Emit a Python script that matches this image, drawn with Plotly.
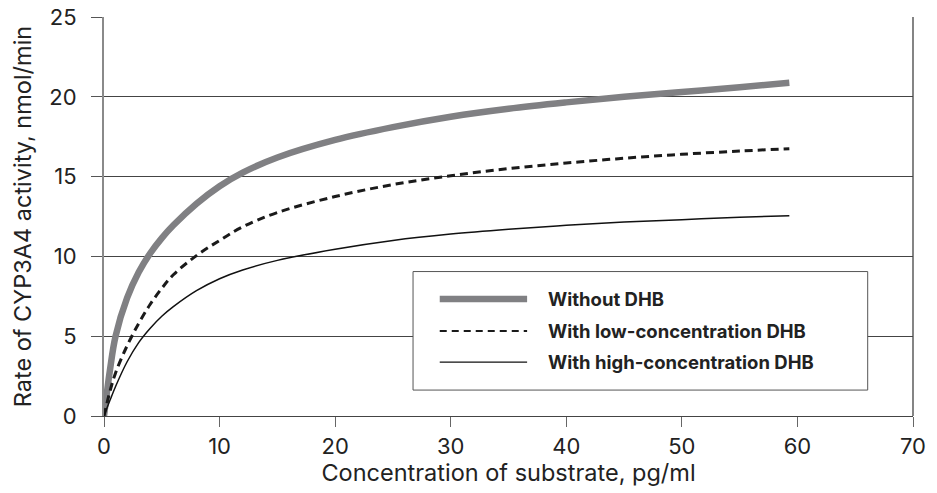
import plotly.graph_objects as go

# Substrate concentration (pg/ml)
conc = [0, 0.5, 1, 2, 3, 4, 5, 6, 8, 10, 12, 15, 20, 25, 30, 35, 40, 45, 50, 55, 59.3]

# Rate of CYP3A4 activity (nmol/min)
without_dhb = [0, 2.8, 5.0, 7.4, 9.0, 10.2, 11.15, 11.95, 13.3, 14.4, 15.25, 16.2, 17.3, 18.1, 18.75, 19.25, 19.65, 20.0, 20.3, 20.6, 20.88]
low_dhb = [0, 1.5, 2.7, 4.4, 5.8, 7.0, 8.0, 8.85, 10.05, 11.0, 11.85, 12.75, 13.75, 14.5, 15.05, 15.5, 15.85, 16.15, 16.4, 16.6, 16.75]
high_dhb = [0, 0.95, 1.85, 3.4, 4.6, 5.5, 6.25, 6.85, 7.85, 8.6, 9.15, 9.75, 10.45, 11.0, 11.4, 11.7, 11.95, 12.15, 12.3, 12.45, 12.55]

series_names = ["Without DHB", "With low-concentration DHB", "With high-concentration DHB"]

x_ticks = [0, 10, 20, 30, 40, 50, 60, 70]
y_ticks = [0, 5, 10, 15, 20, 25]

FONT = "Inter, Liberation Sans, Arial, sans-serif"

styles = [
    dict(color="#808083", width=6.5, dash="solid"),
    dict(color="#1a1a1a", width=3, dash="8px,5px"),
    dict(color="#111111", width=1.5, dash="solid"),
]

fig = go.Figure()
for name, ys, st in zip(series_names, [without_dhb, low_dhb, high_dhb], styles):
    fig.add_trace(go.Scatter(
        x=conc, y=ys, mode="lines", name=name,
        line=dict(color=st["color"], width=st["width"], dash=st["dash"],
                  shape="spline", smoothing=1.0),
        showlegend=False,
    ))

# Custom legend box (paper coords within plot area)
lx0, lx1, ly0, ly1 = 0.382, 0.944, 0.065, 0.362
fig.add_shape(type="rect", xref="paper", yref="paper", x0=lx0, x1=lx1, y0=ly0, y1=ly1,
              line=dict(color="#555555", width=1), fillcolor="white", layer="above")
row_y = [0.293, 0.213, 0.135]
legend_line_styles = [
    dict(color="#808083", width=6.5, dash="solid"),
    dict(color="#1a1a1a", width=2, dash="7px,5px"),
    dict(color="#111111", width=1.3, dash="solid"),
]
for name, yy, st in zip(series_names, row_y, legend_line_styles):
    fig.add_shape(type="line", xref="paper", yref="paper", x0=0.415, x1=0.523, y0=yy, y1=yy,
                  line=dict(color=st["color"], width=st["width"], dash=st["dash"]), layer="above")
    fig.add_annotation(xref="paper", yref="paper", x=0.546, y=yy, text="<b>" + name + "</b>",
                       showarrow=False, xanchor="left", yanchor="middle",
                       font=dict(family=FONT, size=18.5, color="#222222"))

# Right border of plot area
fig.add_shape(type="line", xref="paper", yref="paper", x0=1, x1=1, y0=0, y1=1,
              line=dict(color="#333333", width=1.2), layer="below")

fig.update_layout(
    width=937, height=493,
    margin=dict(l=104, r=24, t=17, b=77, autoexpand=False),
    paper_bgcolor="white", plot_bgcolor="white",
    font=dict(family=FONT, size=22, color="#222222"),
    xaxis=dict(
        range=[0, 70], tickvals=x_ticks, ticktext=[str(v) for v in x_ticks],
        showgrid=False, zeroline=False, automargin=False,
        showline=True, linecolor="#444444", linewidth=1.2,
        ticks="outside", ticklen=10, tickcolor="#666666", tickwidth=1.2,
        tickfont=dict(size=22, color="#222222"),
        title=dict(text="Concentration of substrate, pg/ml", font=dict(size=23.5, color="#222222"), standoff=3),
    ),
    yaxis=dict(
        range=[0, 25], tickvals=y_ticks, ticktext=[str(v) for v in y_ticks],
        showgrid=True, gridcolor="#444444", gridwidth=1,
        zeroline=False, automargin=False,
        showline=True, linecolor="#8a8a8a", linewidth=2,
        ticks="outside", ticklen=11, tickcolor="#555555", tickwidth=1.2,
        ticklabelstandoff=10,
        tickfont=dict(size=22, color="#222222"),
        title=dict(text="Rate of CYP3A4 activity, nmol/min", font=dict(size=23.5, color="#222222"), standoff=11),
    ),
)

fig.write_html("out.html", config={"displayModeBar": False},
               post_script="document.body.style.margin='0';document.body.style.padding='0';")
